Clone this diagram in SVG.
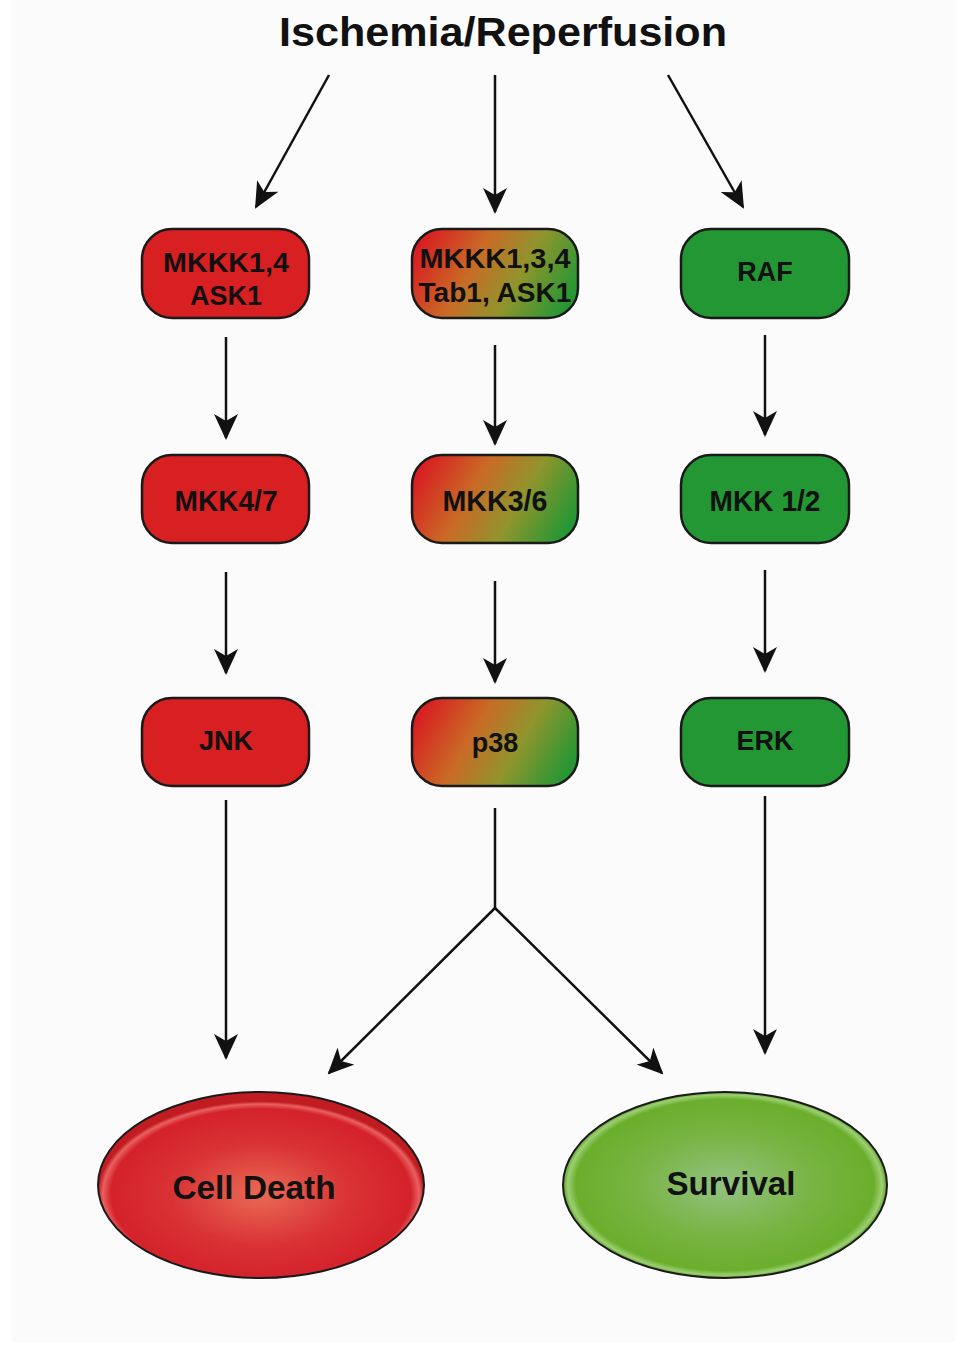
<svg xmlns="http://www.w3.org/2000/svg" width="964" height="1352" viewBox="0 0 964 1352">
<style>
.box{stroke:#1a1a1a;stroke-width:2.5}
.t{font-family:"Liberation Sans",Arial,sans-serif;font-weight:bold;fill:#111;text-anchor:middle}
.bt{font-size:27px}
.ct{font-size:29px}
.c{stroke:#111;stroke-width:2.5;fill:none}
</style>
<defs>
<marker id="ah" viewBox="0 0 26 24" refX="24" refY="12" markerWidth="26" markerHeight="24" markerUnits="userSpaceOnUse" orient="auto">
<path d="M0,0 L26,12 L0,24 L7,12 Z" fill="#111"/>
</marker>
<linearGradient id="rg" x1="0" y1="0.35" x2="1" y2="0.65">
<stop offset="0" stop-color="#d81f22"/>
<stop offset="0.35" stop-color="#c96b26"/>
<stop offset="0.65" stop-color="#8f952d"/>
<stop offset="1" stop-color="#229734"/>
</linearGradient>
<radialGradient id="red" cx="0.5" cy="0.55" r="0.5">
<stop offset="0" stop-color="#ea6a55"/>
<stop offset="0.55" stop-color="#d93235"/>
<stop offset="0.92" stop-color="#d4222a"/>
<stop offset="0.97" stop-color="#e96060"/>
<stop offset="1" stop-color="#c01c22"/>
</radialGradient>
<radialGradient id="grn" cx="0.5" cy="0.5" r="0.5">
<stop offset="0" stop-color="#93c282"/>
<stop offset="0.55" stop-color="#78b443"/>
<stop offset="0.92" stop-color="#6bae2c"/>
<stop offset="0.97" stop-color="#9ccf73"/>
<stop offset="1" stop-color="#5e9e28"/>
</radialGradient>
</defs>
<rect width="964" height="1352" fill="#ffffff"/>
<rect x="11" y="0" width="944" height="1342" fill="#fbfbfb"/>

<text id="title" class="t" x="503" y="46" font-size="40" textLength="448" lengthAdjust="spacingAndGlyphs">Ischemia/Reperfusion</text>

<g id="connectors">
<line class="c" x1="329" y1="75" x2="256" y2="207" marker-end="url(#ah)"/>
<line class="c" x1="495" y1="75" x2="495" y2="212" marker-end="url(#ah)"/>
<line class="c" x1="668" y1="75" x2="743" y2="207" marker-end="url(#ah)"/>
<line class="c" x1="226" y1="337" x2="226" y2="438" marker-end="url(#ah)"/>
<line class="c" x1="495" y1="345" x2="495" y2="444" marker-end="url(#ah)"/>
<line class="c" x1="765" y1="335" x2="765" y2="435" marker-end="url(#ah)"/>
<line class="c" x1="226" y1="572" x2="226" y2="673" marker-end="url(#ah)"/>
<line class="c" x1="495" y1="581" x2="495" y2="682" marker-end="url(#ah)"/>
<line class="c" x1="765" y1="570" x2="765" y2="671" marker-end="url(#ah)"/>
<line class="c" x1="226" y1="800" x2="226" y2="1058" marker-end="url(#ah)"/>
<line class="c" x1="765" y1="796" x2="765" y2="1053" marker-end="url(#ah)"/>
<polyline class="c" points="495,808 495,908"/>
<line class="c" x1="495" y1="908" x2="329" y2="1073" marker-end="url(#ah)"/>
<line class="c" x1="495" y1="908" x2="662" y2="1073" marker-end="url(#ah)"/>
</g>

<g id="n-mkkk14">
<rect class="box" x="142" y="229" width="167" height="89" rx="30" fill="#d81f22"/>
<text class="t bt" x="226" y="272" textLength="126" lengthAdjust="spacingAndGlyphs">MKKK1,4</text>
<text class="t bt" x="226" y="305">ASK1</text>
</g>
<g id="n-mkkk134">
<rect class="box" x="412" y="229" width="166" height="89" rx="30" fill="url(#rg)"/>
<text class="t bt" x="495" y="268" textLength="151" lengthAdjust="spacingAndGlyphs">MKKK1,3,4</text>
<text class="t bt" x="495" y="302" textLength="153" lengthAdjust="spacingAndGlyphs">Tab1, ASK1</text>
</g>
<g id="n-raf">
<rect class="box" x="681" y="229" width="168" height="89" rx="30" fill="#229734"/>
<text class="t bt" x="765" y="281">RAF</text>
</g>

<g id="n-mkk47">
<rect class="box" x="142" y="455" width="167" height="88" rx="30" fill="#d81f22"/>
<text class="t ct" x="226" y="511" textLength="103" lengthAdjust="spacingAndGlyphs">MKK4/7</text>
</g>
<g id="n-mkk36">
<rect class="box" x="412" y="455" width="166" height="88" rx="30" fill="url(#rg)"/>
<text class="t ct" x="495" y="511" textLength="105" lengthAdjust="spacingAndGlyphs">MKK3/6</text>
</g>
<g id="n-mkk12">
<rect class="box" x="681" y="455" width="168" height="88" rx="30" fill="#229734"/>
<text class="t ct" x="765" y="511" textLength="111" lengthAdjust="spacingAndGlyphs">MKK 1/2</text>
</g>

<g id="n-jnk">
<rect class="box" x="142" y="698" width="167" height="88" rx="30" fill="#d81f22"/>
<text class="t bt" x="226" y="750">JNK</text>
</g>
<g id="n-p38">
<rect class="box" x="412" y="698" width="166" height="88" rx="30" fill="url(#rg)"/>
<text class="t bt" x="495" y="752">p38</text>
</g>
<g id="n-erk">
<rect class="box" x="681" y="698" width="168" height="88" rx="30" fill="#229734"/>
<text class="t bt" x="765" y="750">ERK</text>
</g>

<g id="n-celldeath">
<ellipse cx="261" cy="1185" rx="163" ry="93" fill="url(#red)" stroke="#1a1a1a" stroke-width="2"/>
<text class="t" x="254" y="1199" font-size="34" textLength="163" lengthAdjust="spacingAndGlyphs">Cell Death</text>
</g>
<g id="n-survival">
<ellipse cx="725" cy="1185" rx="162" ry="93" fill="url(#grn)" stroke="#1a1a1a" stroke-width="2"/>
<text class="t" x="731" y="1195" font-size="34" textLength="129" lengthAdjust="spacingAndGlyphs">Survival</text>
</g>
</svg>
